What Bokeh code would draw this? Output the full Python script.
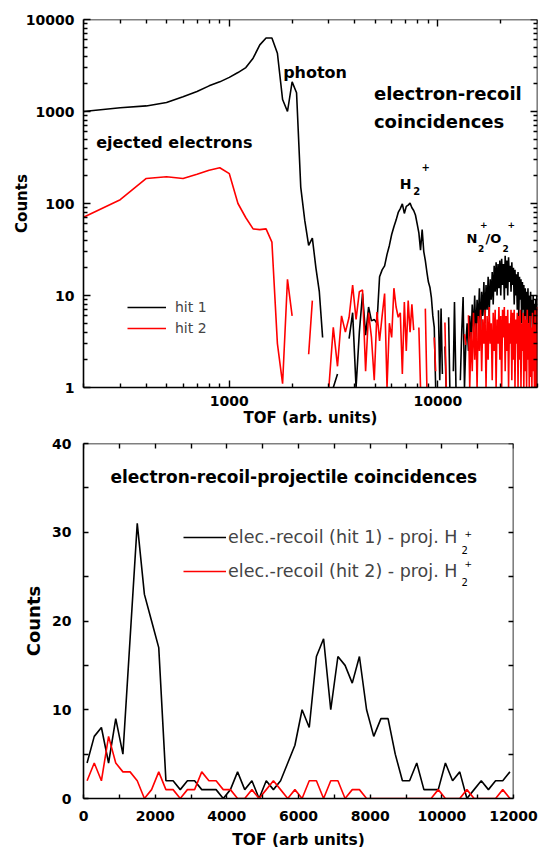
import numpy as np
from bokeh.plotting import figure
from bokeh.models import (LogAxis, LinearAxis, FixedTicker, PrintfTickFormatter,
                          Label, Legend, LegendItem)
from bokeh.layouts import column
from bokeh.embed import file_html
from bokeh.resources import INLINE

nan = float("nan")

# ---------------- top panel: electron-recoil coincidences (log-log) ----------------
tof_a = list(range(200, 2801, 100))
hit1_a = [1000, 1100, 1150, 1250, 1450, 1650, 1900, 2100, 2350, 2650,
          3000, 3800, 5300, 6300, 6300, 4300, 1350, 1000, 2100, 1600,
          150, 65, 35, 42, 20, 11, 3.5]
hit2_a = [71, 110, 187, 195, 187, 208, 230, 245, 211, 100,
          70, 53, 52, 53, 38, 3, 1.1, 15, 6, nan,
          nan, nan, 2.3, 8.8, nan, nan, nan]

tof_b = list(range(3000, 11851, 150))
hit1_b = [nan, 1.0, 1.4, nan, nan, 3.4, 6.5, 1.0, 4.0, 10.5,
          3.7, 7.5, 5.3, 5.5, 5.0, 16, 19, 21, 28, 35,
          46, 56, 66, 80, 88, 99, 78, 93, 96, 101,
          90, 84, 75, 60, 48, 31, 52, 30, 24, 18,
          14, 12.3, 9.5, 6, 4.5, 1, nan, 6.9, 1.2, 7.2,
          1.4, nan, 2.8, 1, nan, 5.8, 1, nan, nan, 1.5]
hit2_b = [1.0, 4.5, 1.7, 6, 4, 5.8, 13, 5.5, 11, 11.5,
          1.5, 6.5, 3.5, 1.2, 6.6, 3.2, 6, 10.5, 1, 5,
          3.5, 12, 7.5, 5.8, 6.5, 1.4, 8.5, 2.5, 8.8, 4,
          8, 4.2, nan, nan, 4.5, 1, nan, nan, 7.2, 1,
          nan, nan, nan, nan, 3.5, 1.5, nan, nan, nan, nan,
          nan, nan, 5.1, 1, nan, nan, nan, nan, nan, nan]

tof_c = list(range(12000, 30001, 200))
hit1_c = [8.5, 1.0, nan, nan, 1.2, 4, 9.6, 1.0, 3, 5,
          2.5, 6, 3, 8, 4, 10, 3.5, 9, 5, 12,
          4, 11, 6, 14, 5, 13, 7, 16, 6, 15,
          9, 18, 8, 21, 11, 23, 10, 22, 12, 24,
          10, 25, 13, 22, 9, 27, 12, 24, 10, 26,
          14, 21, 11, 23, 13, 20, 8, 19, 10, 17,
          7, 18, 6, 16, 9, 15, 5, 14, 7, 13,
          4, 12, 6, 11, 3.5, 12, 5, 10, 3, 11,
          6, 9, 3, 10, 5, 8, 2.5, 9, 4, 10,
          9.6]
hit2_c = [nan, nan, nan, nan, nan, nan, nan, 3.8, 2.9, nan,
          6.1, 1, 4, 1.5, 6.5, 2, 5, 1, 6, 2.5,
          7, 1.5, 5.5, 3, 7, 1, 6, 2, 7.5, 3,
          5, 1.2, 6.5, 2.5, 7, 1, 5.5, 3, 7.5, 2,
          6, 1, 7, 3.5, 7.5, 1.5, 6, 2.5, 7, 1,
          5, 3, 7, 1.2, 6.5, 2, 7, 1, 5.5, 3,
          6.5, 1, 6, 2, 7, 1, 5, 2.5, 6.5, 1,
          6, 1.5, 5.5, 1, 7, 2, 5, 1, 6, 1.3,
          4.5, 1, 6.5, 1.5, 5, 1, 7, 1, 4, 1,
          7.5]

tof_top = tof_a + tof_b + tof_c
hit1_top = hit1_a + hit1_b + hit1_c
hit2_top = hit2_a + hit2_b + hit2_c

# ---------------- bottom panel: electron-recoil-projectile coincidences ----------------
tof_bot = list(range(100, 11901, 200))
rec1_bot = [4, 7, 8, 4, 9, 5, 18, 31, 23, 20,
            17, 2, 2, 1, 2, 2, 1, 1, 1, 0,
            1, 3, 1, 2, 0, 2, 1, 2, 4, 6,
            10, 8, 16, 18, 10, 16, 15, 13, 16, 10,
            7, 9, 9, 5, 2, 2, 4, 1, 1, 1,
            4, 2, 3, 0, 1, 2, 1, 2, 2, 3]
rec2_bot = [2, 4, 2, 7, 4, 3, 3, 2, 0, 1,
            3, 1, 1, 0, 1, 1, 3, 2, 2, 1,
            1, 0, 0, 1, 0, 1, 2, 1, 0, 1,
            0, 2, 2, 0, 2, 2, 0, 1, 1, 0,
            0, 0, 0, 0, 0, 0, 0, 0, 0, 1,
            0, 0, 0, 1, 0, 0, 0, 0, 1, 0]

top_xticks = [1000, 10000]
top_xminor = [200, 300, 400, 500, 600, 700, 800, 900,
              2000, 3000, 4000, 5000, 6000, 7000, 8000, 9000, 20000, 30000]
top_yticks = [1, 10, 100, 1000, 10000]
top_yminor = [m * d for d in (1, 10, 100, 1000) for m in range(2, 10)]
bot_xticks = [0, 2000, 4000, 6000, 8000, 10000, 12000]
bot_xminor = [1000, 3000, 5000, 7000, 9000, 11000]
bot_yticks = [0, 10, 20, 30, 40]
bot_yminor = [5, 15, 25, 35]

FONT = "DejaVu Sans"


def style_axis(ax, labels=True, size="14px", maj_in=7, min_in=4):
    ax.axis_line_width = 1.6
    ax.axis_line_color = "black"
    ax.major_tick_in = maj_in
    ax.major_tick_out = 0
    ax.minor_tick_in = min_in
    ax.minor_tick_out = 0
    ax.major_tick_line_width = 1.4
    ax.minor_tick_line_width = 1.4
    ax.major_tick_line_color = "black"
    ax.minor_tick_line_color = "black"
    ax.major_label_text_font = FONT
    ax.major_label_text_font_style = "bold"
    ax.axis_label_text_font = FONT
    ax.axis_label_text_font_style = "bold"
    ax.axis_label_text_color = "black"
    if labels:
        ax.major_label_text_font_size = size
        ax.major_label_text_color = "black"
    else:
        ax.major_label_text_font_size = "1px"
        ax.major_label_text_color = None
        ax.major_label_standoff = 0


# ---------------- top figure ----------------
p1 = figure(width=542, height=428, frame_width=454, frame_height=368,
            x_axis_type="log", y_axis_type="log",
            x_range=(200, 30000), y_range=(1, 10000),
            output_backend="svg", toolbar_location=None,
            min_border_left=78, min_border_right=10,
            min_border_top=19, min_border_bottom=41)
p1.grid.visible = False
p1.outline_line_color = None
p1.background_fill_color = "white"
p1.border_fill_color = "white"

fmt = PrintfTickFormatter(format="%d")

ax = p1.xaxis[0]
ax.ticker = FixedTicker(ticks=top_xticks, minor_ticks=top_xminor)
ax.formatter = fmt
style_axis(ax)
ax.axis_label = "TOF (arb. units)"
ax.axis_label_text_font_size = "15px"
ax.major_label_standoff = 8
ax.axis_label_standoff = 0

ay = p1.yaxis[0]
ay.ticker = FixedTicker(ticks=top_yticks, minor_ticks=top_yminor)
ay.formatter = fmt
style_axis(ay)
ay.axis_label = "Counts"
ay.axis_label_text_font_size = "15px"
ay.major_label_standoff = 9
ay.axis_label_standoff = -8

top_ax = LogAxis(ticker=FixedTicker(ticks=top_xticks, minor_ticks=top_xminor),
                 formatter=fmt, fixed_location=10000)
style_axis(top_ax, labels=False)
p1.add_layout(top_ax, "above")
right_ax = LogAxis(ticker=FixedTicker(ticks=top_yticks, minor_ticks=top_yminor),
                   formatter=fmt, fixed_location=30000)
style_axis(right_ax, labels=False)
p1.add_layout(right_ax, "right")

r1 = p1.line(tof_top, hit1_top, line_color="black", line_width=1.6)
r2 = p1.line(tof_top, hit2_top, line_color="#ff0000", line_width=1.6)

leg1 = Legend(items=[LegendItem(label="hit 1", renderers=[r1]),
                     LegendItem(label="hit 2", renderers=[r2])],
              location=(44, 49), glyph_width=39, glyph_height=20,
              label_standoff=9, spacing=1, padding=0, margin=0,
              border_line_color=None, background_fill_alpha=0,
              label_text_font=FONT, label_text_font_size="14px",
              label_height=20)
p1.add_layout(leg1)


def lab(p, x, y, text, size, bold=True, baseline="alphabetic"):
    p.add_layout(Label(x=x, y=y, text=text, text_font=FONT,
                       text_font_style="bold" if bold else "normal",
                       text_font_size=size, text_color="black",
                       text_baseline=baseline, text_align="left"))


lab(p1, 230, 464, "ejected electrons", "16px")
lab(p1, 1811, 2674, "photon", "16px")
lab(p1, 4933, 1557, "electron-recoil", "18px")
lab(p1, 4933, 785, "coincidences", "18px")
lab(p1, 6561, 164, "H", "14px")
lab(p1, 7614, 138, "2", "10px")
lab(p1, 8336, 248, "+", "10px", baseline="middle")
lab(p1, 13713, 41.3, "N", "13px")
lab(p1, 15566, 32.2, "2", "9px")
lab(p1, 15914, 59.1, "+", "9px", baseline="middle")
lab(p1, 16914, 41.3, "/O", "13px")
lab(p1, 20400, 32.2, "2", "9px")
lab(p1, 21565, 59.1, "+", "9px", baseline="middle")

# ---------------- bottom figure ----------------
p2 = figure(width=542, height=419, frame_width=430, frame_height=355,
            x_range=(0, 12000), y_range=(0, 40),
            output_backend="svg", toolbar_location=None,
            min_border_left=83, min_border_right=29,
            min_border_top=14, min_border_bottom=50)
p2.grid.visible = False
p2.outline_line_color = None
p2.background_fill_color = "white"
p2.border_fill_color = "white"

bx = p2.xaxis[0]
bx.ticker = FixedTicker(ticks=bot_xticks, minor_ticks=bot_xminor)
style_axis(bx, maj_in=4, min_in=4)
bx.axis_label = "TOF (arb units)"
bx.axis_label_text_font_size = "15.5px"
bx.major_label_standoff = 12
bx.axis_label_standoff = 7

by = p2.yaxis[0]
by.ticker = FixedTicker(ticks=bot_yticks, minor_ticks=bot_yminor)
style_axis(by, maj_in=5, min_in=5)
by.axis_label = "Counts"
by.axis_label_text_font_size = "18px"
by.major_label_standoff = 12
by.axis_label_standoff = 5

top2 = LinearAxis(ticker=FixedTicker(ticks=bot_xticks, minor_ticks=bot_xminor),
                  fixed_location=40)
style_axis(top2, labels=False, maj_in=5, min_in=5)
p2.add_layout(top2, "above")
right2 = LinearAxis(ticker=FixedTicker(ticks=bot_yticks, minor_ticks=bot_yminor),
                    fixed_location=12000)
style_axis(right2, labels=False, maj_in=5, min_in=5)
p2.add_layout(right2, "right")

s1 = p2.line(tof_bot, rec1_bot, line_color="black", line_width=1.6)
s2 = p2.line(tof_bot, rec2_bot, line_color="#ff0000", line_width=1.6)

leg2 = Legend(items=[LegendItem(label="elec.-recoil (hit 1) - proj. H", renderers=[s1]),
                     LegendItem(label="elec.-recoil (hit 2) - proj. H", renderers=[s2])],
              location=(100, 212), glyph_width=43, glyph_height=30,
              label_standoff=2, spacing=4, padding=0, margin=0,
              border_line_color=None, background_fill_alpha=0,
              label_text_font=FONT, label_text_font_size="17.5px",
              label_height=30)
p2.add_layout(leg2)

lab(p2, 753, 36.28, "electron-recoil-projectile coincidences", "17px", baseline="middle")
lab(p2, 10549, 28.02, "2", "10px", bold=False, baseline="middle")
lab(p2, 10633, 29.89, "+", "9px", bold=False, baseline="middle")
lab(p2, 10549, 24.45, "2", "10px", bold=False, baseline="middle")
lab(p2, 10633, 26.51, "+", "9px", bold=False, baseline="middle")

layout = column(p1, p2, spacing=0)
open("out.html", "w").write(file_html(layout, INLINE))
